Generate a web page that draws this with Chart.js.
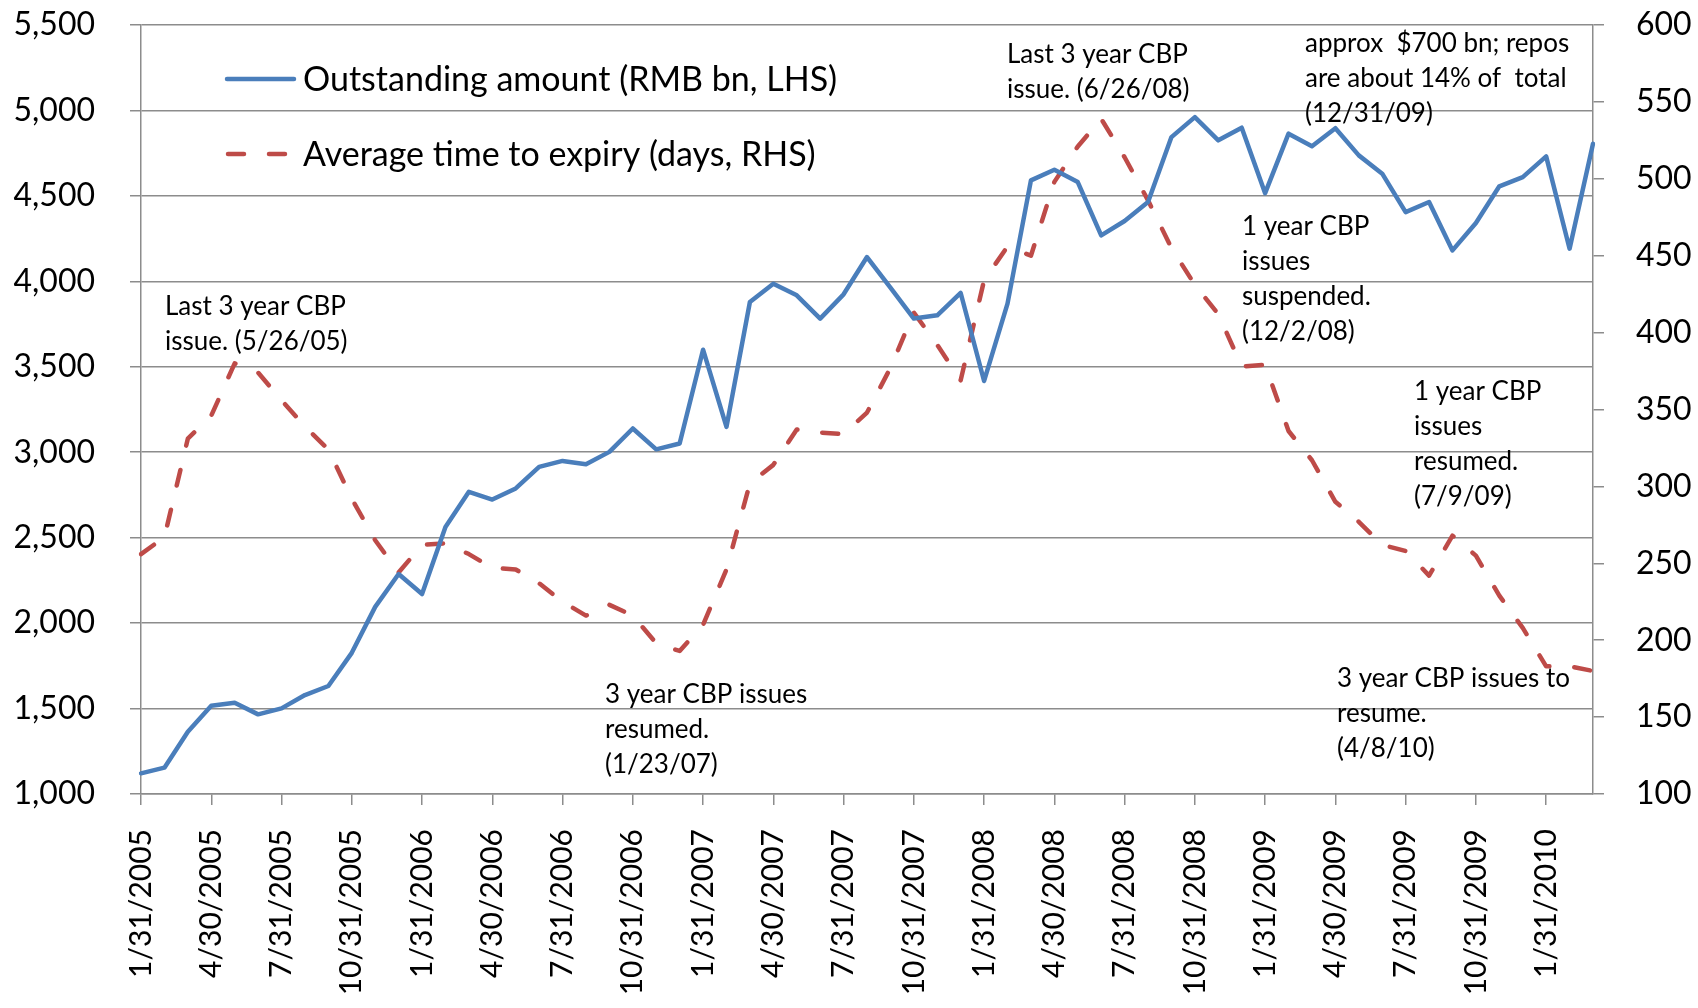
<!DOCTYPE html>
<html>
<head>
<meta charset="utf-8">
<title>CBP outstanding amount and average time to expiry</title>
<script src="https://cdn.jsdelivr.net/npm/chart.js@4.4.1/dist/chart.umd.min.js"></script>
<style>
  html, body { margin: 0; padding: 0; background: #fff; }
  #wrap { width: 1698px; height: 1008px; }
</style>
</head>
<body>
<div id="wrap"><canvas id="cbpChart" width="1698" height="1008"></canvas></div>
<script>
/* global Chart */

// month-end observation dates (category axis)
const monthEnds = [
  '1/31/2005', '2/28/2005', '3/31/2005', '4/30/2005', '5/31/2005', '6/30/2005',
  '7/31/2005', '8/31/2005', '9/30/2005', '10/31/2005', '11/30/2005', '12/31/2005',
  '1/31/2006', '2/28/2006', '3/31/2006', '4/30/2006', '5/31/2006', '6/30/2006',
  '7/31/2006', '8/31/2006', '9/30/2006', '10/31/2006', '11/30/2006', '12/31/2006',
  '1/31/2007', '2/28/2007', '3/31/2007', '4/30/2007', '5/31/2007', '6/30/2007',
  '7/31/2007', '8/31/2007', '9/30/2007', '10/31/2007', '11/30/2007', '12/31/2007',
  '1/31/2008', '2/29/2008', '3/31/2008', '4/30/2008', '5/31/2008', '6/30/2008',
  '7/31/2008', '8/31/2008', '9/30/2008', '10/31/2008', '11/30/2008', '12/31/2008',
  '1/31/2009', '2/28/2009', '3/31/2009', '4/30/2009', '5/31/2009', '6/30/2009',
  '7/31/2009', '8/31/2009', '9/30/2009', '10/31/2009', '11/30/2009', '12/31/2009',
  '1/31/2010', '2/28/2010', '3/31/2010',
];

// Outstanding amount (RMB bn, LHS)
const outstanding = [
  1121, 1154, 1364, 1516, 1534, 1466, 1501, 1579, 1632, 1826, 2095, 2287,
  2170, 2563, 2768, 2723, 2788, 2914, 2949, 2930, 3002, 3139, 3017, 3051,
  3600, 3148, 3879, 3986, 3918, 3782, 3924, 4142, 3963, 3782, 3801, 3932,
  3417, 3870, 4591, 4653, 4581, 4269, 4353, 4464, 4844, 4961, 4825, 4899,
  4516, 4864, 4790, 4896, 4737, 4630, 4405, 4464, 4181, 4341, 4556, 4610,
  4731, 4191, 4805,
];

// Average time to expiry (days, RHS)
const daysToExpiry = [
  256, 267, 331, 346, 380, 374, 356, 339, 324, 292, 265, 244,
  262, 263, 256, 247, 246, 237, 225, 216, 223, 216, 198, 193,
  210, 246, 302, 314, 337, 335, 334, 348, 377, 413, 392, 369,
  434, 456, 450, 498, 521, 539, 514, 486, 455, 431, 412, 378,
  379, 336, 317, 290, 277, 262, 258, 242, 268, 255, 229, 208,
  183, 183, 180,
];

const leftTicks = { min: 1000, max: 5500, step: 500 };
const rightTicks = { min: 100, max: 600, step: 50 };

const seriesNames = ['Outstanding amount (RMB bn, LHS)', 'Average time to expiry (days, RHS)'];

// text boxes placed on the chart (left edge, first baseline)
const notes = [
  { x: 165, y: 315, lines: ['Last 3 year CBP', 'issue. (5/26/05)'] },
  { x: 605, y: 703, lines: ['3 year CBP issues', 'resumed.', '(1/23/07)'] },
  { x: 1007, y: 63, lines: ['Last 3 year CBP', 'issue. (6/26/08)'] },
  { x: 1305, y: 52, lines: ['approx  $700 bn; repos', 'are about 14% of  total', '(12/31/09)'] },
  { x: 1242, y: 235, lines: ['1 year CBP', 'issues', 'suspended.', '(12/2/08)'] },
  { x: 1414, y: 400, lines: ['1 year CBP', 'issues', 'resumed.', '(7/9/09)'] },
  { x: 1337, y: 687, lines: ['3 year CBP issues to', 'resume.', '(4/8/10)'] },
];

const BLUE = '#4a7ebb';
const RED = '#be4b48';
const GRID = '#8c8c8c';
const FONT = 'Lato, "Open Sans", sans-serif';

const overlayText = {
  id: 'overlayText',
  afterDraw(chart) {
    const ctx = chart.ctx;
    ctx.save();
    ctx.fillStyle = '#000';
    ctx.textAlign = 'left';
    ctx.textBaseline = 'alphabetic';
    ctx.font = '26px ' + FONT;
    notes.forEach((n) => {
      n.lines.forEach((line, i) => ctx.fillText(line, n.x, n.y + i * 35));
    });

    // legend (inside plot, top left)
    ctx.lineWidth = 4.5;
    ctx.lineCap = 'round';
    ctx.strokeStyle = BLUE;
    ctx.setLineDash([]);
    ctx.beginPath();
    ctx.moveTo(227, 79);
    ctx.lineTo(294, 79);
    ctx.stroke();

    ctx.strokeStyle = RED;
    ctx.setLineDash([16, 25]);
    ctx.beginPath();
    ctx.moveTo(228, 154);
    ctx.lineTo(294, 154);
    ctx.stroke();
    ctx.setLineDash([]);

    ctx.font = '34px ' + FONT;
    ctx.textBaseline = 'middle';
    ctx.fillText(seriesNames[0], 303, 80);
    ctx.fillText(seriesNames[1], 303, 155);
    ctx.restore();
  },
};

// y axes: fixed width, and keep the top of the plot at 25px
function fixY(width) {
  return (scale) => {
    scale.width = width;
    scale.paddingTop = 25;
    scale.paddingBottom = 0;
  };
}

function drawChart() {
  const canvas = document.getElementById('cbpChart');
  new Chart(canvas, {
    type: 'line',
    data: {
      labels: monthEnds,
      datasets: [
        {
          label: seriesNames[0],
          data: outstanding,
          yAxisID: 'y',
          borderColor: BLUE,
          borderWidth: 4.5,
          borderJoinStyle: 'round',
          borderCapStyle: 'round',
          pointRadius: 0,
          tension: 0,
          fill: false,
        },
        {
          label: seriesNames[1],
          data: daysToExpiry,
          yAxisID: 'y1',
          borderColor: RED,
          borderWidth: 4.5,
          borderDash: [16, 25],
          borderCapStyle: 'round',
          borderJoinStyle: 'round',
          pointRadius: 0,
          tension: 0,
          fill: false,
        },
      ],
    },
    options: {
      responsive: false,
      animation: false,
      devicePixelRatio: 1,
      layout: { padding: 0 },
      plugins: {
        legend: { display: false },
        tooltip: { enabled: false },
      },
      scales: {
        x: {
          type: 'category',
          offset: false,
          grid: { drawOnChartArea: false, color: GRID, lineWidth: 1.5, tickLength: 11 },
          border: { color: GRID, width: 1.5 },
          ticks: {
            autoSkip: false,
            minRotation: 90,
            maxRotation: 90,
            padding: 24,
            color: '#000',
            font: { family: FONT, size: 30 },
            callback: (value, index) => (index % 3 === 0 ? monthEnds[index] : null),
          },
          afterFit: (scale) => { scale.height = 214; },
        },
        y: {
          position: 'left',
          min: leftTicks.min,
          max: leftTicks.max,
          grid: { color: GRID, lineWidth: 1.5, tickLength: 11 },
          border: { color: GRID, width: 1.5 },
          ticks: {
            stepSize: leftTicks.step,
            padding: 35,
            color: '#000',
            font: { family: FONT, size: 32 },
            callback: (v) => v.toLocaleString('en-US'),
          },
          afterFit: fixY(141),
        },
        y1: {
          position: 'right',
          min: rightTicks.min,
          max: rightTicks.max,
          grid: { drawOnChartArea: false, color: GRID, lineWidth: 1.5, tickLength: 11 },
          border: { color: GRID, width: 1.5 },
          ticks: {
            stepSize: rightTicks.step,
            padding: 32,
            color: '#000',
            font: { family: FONT, size: 32 },
          },
          afterFit: fixY(105),
        },
      },
    },
    plugins: [overlayText],
  });
}

if (document.fonts && document.fonts.load) {
  Promise.all([document.fonts.load('32px Lato'), document.fonts.load('26px Lato')])
    .then(drawChart, drawChart);
} else {
  drawChart();
}
</script>
</body>
</html>
